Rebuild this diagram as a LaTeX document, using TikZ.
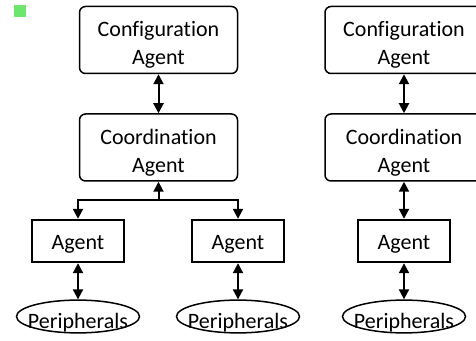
\documentclass[tikz,border=0pt]{standalone}
\usepackage{fontspec}
\setmainfont{Carlito}[Ligatures=NoCommon]
\usetikzlibrary{arrows.meta,shapes.geometric}
\definecolor{marker}{RGB}{110,230,110}

\begin{document}
\begin{tikzpicture}[x=0.5pt,y=-0.5pt,
  every node/.style={font=\fontsize{11pt}{14pt}\selectfont},
  agentround/.style={draw, rounded corners=3pt, line width=0.75pt, minimum width=79pt, minimum height=33.5pt, align=center, inner sep=0pt, text height=25pt, text depth=0pt},
  agentbox/.style={draw, line width=1.2pt, minimum width=46pt, minimum height=21pt, inner sep=0pt, text height=9pt, text depth=0pt},
  periph/.style={draw, ellipse, line width=0.75pt, minimum width=61.5pt, minimum height=16pt, inner sep=0pt, text height=11.6pt, text depth=0pt},
  link/.style={line width=1pt, {Triangle[length=5pt,width=5pt]}-{Triangle[length=5pt,width=5pt]}},
  oneway/.style={line width=1pt, -{Triangle[length=5pt,width=5pt]}}]
    \useasboundingbox (0,0) rectangle (476,341);
    \clip (0,0) rectangle (476,341);
    \node[fill=marker, minimum size=6pt, inner sep=0pt] (mark) at (20,11) {};
    % left group
    \node[agentround] (confL) at (158.5,40) {Configuration\\Agent};
    \node[agentround] (coordL) at (158.5,147.5) {Coordination\\Agent};
    \node[agentbox] (agentA) at (78,241) {Agent};
    \node[agentbox] (agentB) at (238,241) {Agent};
    \node[periph] (periA) at (78,316.5) {\makebox[0pt]{Peripherals}};
    \node[periph] (periB) at (238,316.5) {\makebox[0pt]{Peripherals}};
    \coordinate (split) at (158.5,200);
    % right group
    \node[agentround] (confR) at (404,40) {Configuration\\Agent};
    \node[agentround] (coordR) at (404,147.5) {Coordination\\Agent};
    \node[agentbox] (agentC) at (404,241) {Agent};
    \node[periph] (periC) at (404,316.5) {\makebox[0pt]{Peripherals}};

    \draw[link] (confL) -- (coordL);
    \draw[oneway] (split) -- (coordL.south);
    \draw[oneway] (split) -| (agentA.north);
    \draw[oneway] (split) -| (agentB.north);
    \draw[link] (agentA) -- (periA);
    \draw[link] (agentB) -- (periB);

    \draw[link] (confR) -- (coordR);
    \draw[link] (coordR) -- (agentC);
    \draw[link] (agentC) -- (periC);
\end{tikzpicture}
\end{document}
